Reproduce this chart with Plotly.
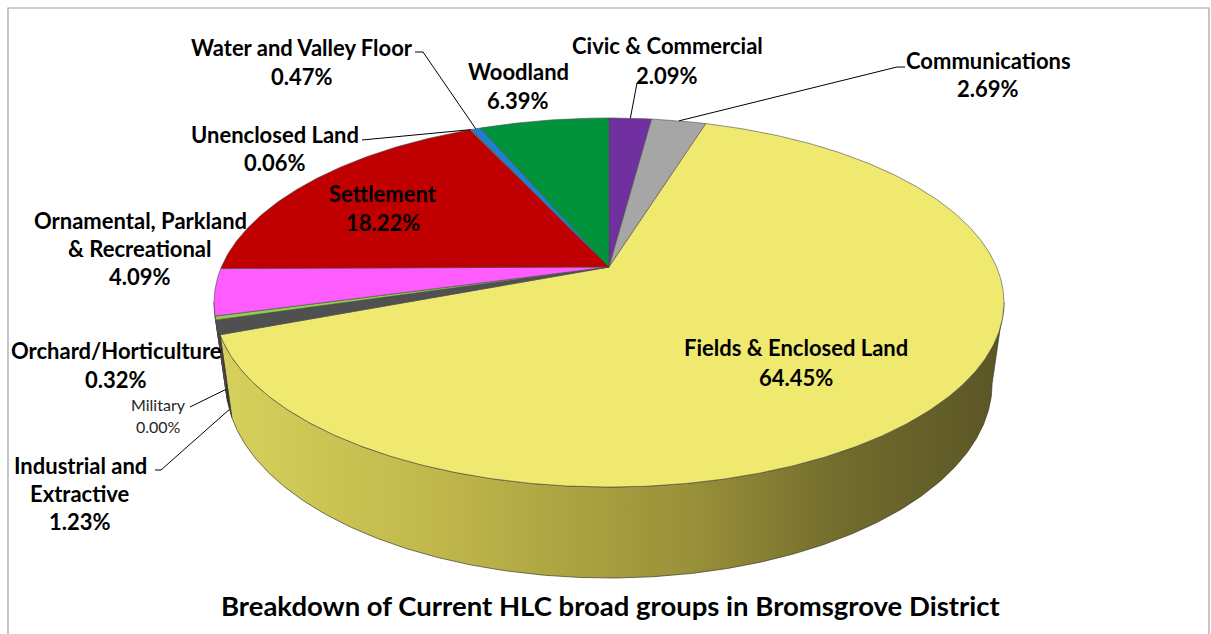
import numpy as np
import plotly.graph_objects as go

# Broad HLC groups, listed clockwise from 12 o'clock
groups = [
    "Civic & Commercial", "Communications", "Fields & Enclosed Land",
    "Industrial and Extractive", "Military", "Orchard/Horticulture",
    "Ornamental, Parkland & Recreational", "Settlement", "Unenclosed Land",
    "Water and Valley Floor", "Woodland",
]
shares = [2.09, 2.69, 64.45, 1.23, 0.00, 0.32, 4.09, 18.22, 0.06, 0.47, 6.39]
top_colors = [
    "#7030a0", "#a6a6a6", "#efe96f", "#505050", "#3c6e2a", "#8fd04a",
    "#ff5cff", "#c00000", "#7f7f7f", "#1f7fd0", "#00933c",
]
side_colors = [
    "#4e2070", "#707070", "#a69f3c", "#333333", "#2a4d1d", "#5f8f30",
    "#b040b0", "#800000", "#555555", "#155a93", "#006428",
]
title = "Breakdown of Current HLC broad groups in Bromsgrove District"

W, H = 1211, 634
FONT = "Lato, 'Open Sans', sans-serif"

# perspective projection of the pie disc onto the page (pixels)
CX, CY = 609.0, 267.0      # projected apex of the pie
AX, BY = 387.6, 177.7      # horizontal / depth radii
K = 0.1924                 # perspective foreshortening
DEPTH = 78.8               # thickness of the disc
SHRINK = 0.97              # bottom face is further from the eye


def proj(t, bottom=False):
    u, v = np.cos(t), np.sin(t)
    den = 1 + K * v
    s = SHRINK if bottom else 1.0
    x = CX + AX * s * u / den
    y = CY + (-BY * s * v + (DEPTH if bottom else 0.0)) / den
    return x, y


def arc(t0, t1, n_per_deg=2):
    n = max(2, int(abs(np.degrees(t1 - t0)) * n_per_deg) + 2)
    return np.linspace(t0, t1, n)


total = sum(shares)
cum = np.concatenate([[0], np.cumsum(shares)]) / total
# clockwise from 12 o'clock -> decreasing angle in the disc plane
t_start = np.pi / 2 - 2 * np.pi * cum[:-1]
t_end = np.pi / 2 - 2 * np.pi * cum[1:]

fig = go.Figure()

# ---- visible front wall (drawn first, the top face sits over it)
front_lo = np.pi + np.arcsin(K)
front_hi = 2 * np.pi - np.arcsin(K)
for i, g in enumerate(groups):
    if shares[i] <= 0:
        continue
    lo, hi = t_end[i], t_start[i]
    for shift in (-2 * np.pi, 0, 2 * np.pi, 4 * np.pi):
        a0, a1 = max(lo + shift, front_lo), min(hi + shift, front_hi)
        if a1 <= a0:
            continue
        ts = arc(a0, a1)
        xt, yt = proj(ts)
        xb, yb = proj(ts[::-1], bottom=True)
        xs = np.concatenate([xt, xb, xt[:1]])
        ys = np.concatenate([yt, yb, yt[:1]])
        kw = dict(fillcolor=side_colors[i])
        if g == "Fields & Enclosed Land":
            kw = dict(fillgradient=dict(
                type="horizontal",
                colorscale=[[0, "#d6d15c"], [0.3, "#bdb54a"], [0.6, "#999039"],
                            [0.8, "#716b2d"], [1, "#5a5525"]]))
        fig.add_trace(go.Scatter(
            x=xs, y=ys, mode="lines", fill="toself",
            line=dict(color="#3c3c2c", width=0.7),
            hoverinfo="skip", showlegend=False, **kw))

# ---- top face slices
for i, g in enumerate(groups):
    if shares[i] <= 0:
        continue
    ts = arc(t_start[i], t_end[i])
    xr, yr = proj(ts)
    xs = np.concatenate([[CX], xr, [CX]])
    ys = np.concatenate([[CY], yr, [CY]])
    fig.add_trace(go.Scatter(
        x=xs, y=ys, mode="lines", fill="toself", fillcolor=top_colors[i],
        line=dict(color="#4a4a4a", width=0.6),
        name=g, text=f"{g}: {shares[i]:.2f}%", hoverinfo="text",
        showlegend=False))

# ---- data labels
wrap = {
    "Ornamental, Parkland & Recreational": ["Ornamental, Parkland", "& Recreational"],
    "Industrial and Extractive": ["Industrial and", "Extractive"],
}
# label block centre x, first-line y, line spacing, font size, bold
label_pos = {
    "Civic & Commercial": (667, 45, 30, 22, True),
    "Communications": (988, 60, 28, 22, True),
    "Fields & Enclosed Land": (796, 347, 30, 22, True),
    "Industrial and Extractive": (80, 465, 28, 22, True),
    "Military": (158, 404, 22, 16, False),
    "Orchard/Horticulture": (116, 350, 29, 22, True),
    "Ornamental, Parkland & Recreational": (140, 220, 28, 22, True),
    "Settlement": (383, 193, 29, 22, True),
    "Unenclosed Land": (275, 134, 28, 22, True),
    "Water and Valley Floor": (302, 47, 29, 22, True),
    "Woodland": (518, 71, 29, 22, True),
}
for i, g in enumerate(groups):
    x0, y0, dy, fs, bold = label_pos[g]
    lines = wrap.get(g, [g]) + [f"{shares[i]:.2f}%"]
    for j, ln in enumerate(lines):
        fig.add_annotation(
            x=x0, y=y0 + j * dy, text=f"<b>{ln}</b>" if bold else ln,
            showarrow=False, xanchor="center", yanchor="middle",
            font=dict(family=FONT, size=fs, color="#000000" if bold else "#262626"))

# ---- leader lines from outside labels to their slices
def mid_rim(i, frac_depth=None):
    tm = 0.5 * (t_start[i] + t_end[i])
    if frac_depth is None:
        return proj(tm)
    xt, yt = proj(tm)
    xb, yb = proj(tm, bottom=True)
    return xt + (xb - xt) * frac_depth, yt + (yb - yt) * frac_depth

leaders = {
    "Water and Valley Floor": ([(415, 52), (423, 52)], None),
    "Unenclosed Land": ([(362, 140)], None),
    "Civic & Commercial": ([(637, 83)], None),
    "Communications": ([(905, 67), (897, 67)], None),
    "Military": ([(190, 407)], 0.85),
    "Industrial and Extractive": ([(155, 470), (161, 470)], 1.0),
}
for g, (pts, depth) in leaders.items():
    i = groups.index(g)
    end = mid_rim(i, depth)
    path = list(pts) + [end]
    fig.add_trace(go.Scatter(
        x=[p[0] for p in path], y=[p[1] for p in path], mode="lines",
        line=dict(color="#000000", width=1), hoverinfo="skip", showlegend=False))

# ---- title
fig.add_annotation(
    x=610, y=605, text=f"<b>{title}</b>", showarrow=False,
    xanchor="center", yanchor="middle",
    font=dict(family=FONT, size=27.5, color="#000000"))

# chart border
fig.add_shape(type="rect", x0=8, y0=8, x1=1209, y1=660,
              line=dict(color="#a0a0a0", width=1.2), fillcolor="rgba(0,0,0,0)")

fig.update_xaxes(range=[0, W], visible=False, fixedrange=True)
fig.update_yaxes(range=[H, 0], visible=False, fixedrange=True)
fig.update_layout(
    width=W, height=H, margin=dict(l=0, r=0, t=0, b=0),
    paper_bgcolor="white", plot_bgcolor="white", showlegend=False,
)
fig.write_html("out.html")
